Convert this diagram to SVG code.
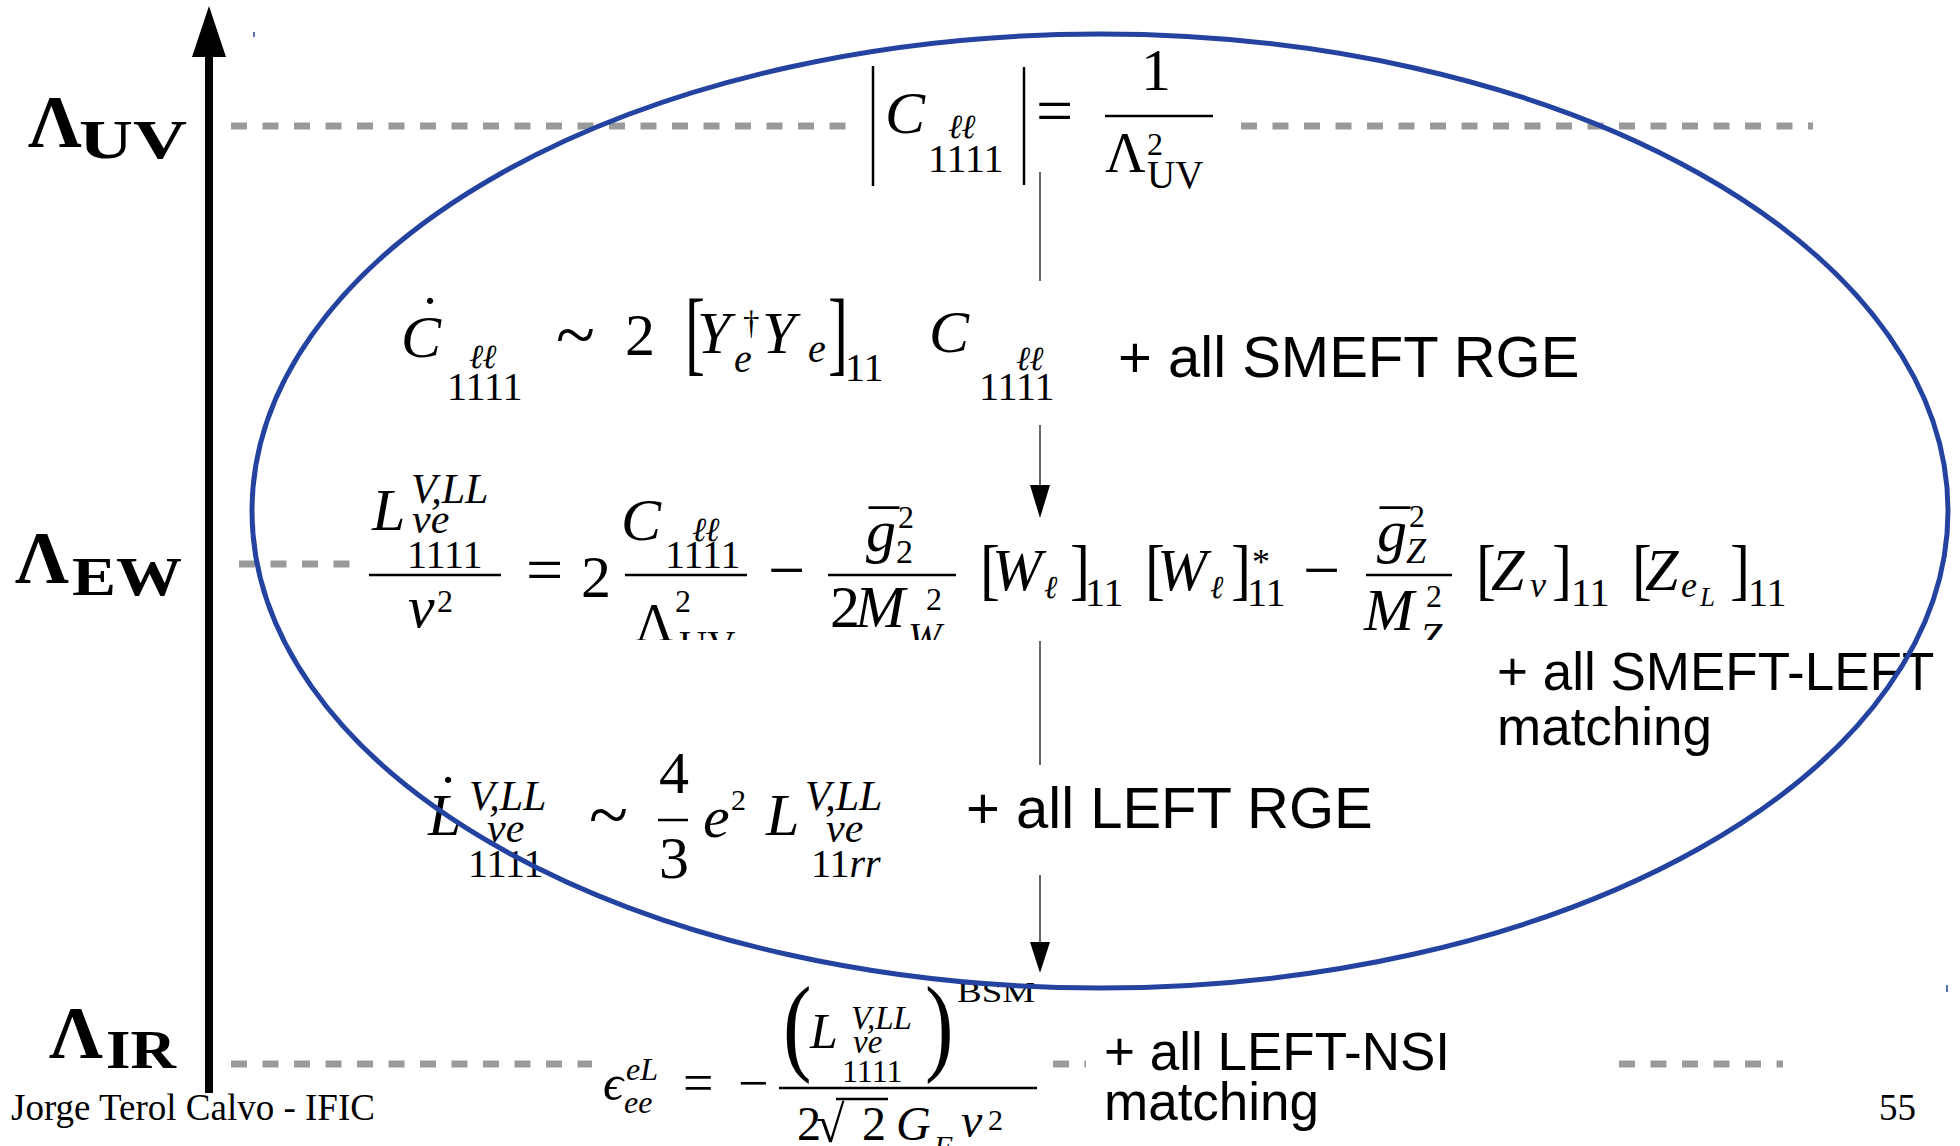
<svg xmlns="http://www.w3.org/2000/svg" width="1960" height="1146" viewBox="0 0 1960 1146">
<style>
.mi{font-family:"Liberation Serif","DejaVu Serif",serif;font-style:italic;fill:#000}
.mu{font-family:"Liberation Serif","DejaVu Serif",serif;fill:#000}
.ell{font-family:"DejaVu Serif","Liberation Serif",serif;font-style:italic;fill:#000}
.bl{font-family:"Liberation Serif","DejaVu Serif",serif;font-weight:bold;fill:#000}
.sans{font-family:"Liberation Sans",Arial,sans-serif;fill:#000}
.fb{stroke:#000;stroke-width:2.5}
.vb{stroke:#000;stroke-width:2.5}
.lvl{stroke:#9a9a9a;stroke-width:7;stroke-dasharray:16 15.5;fill:none}
.conn{stroke:#333;stroke-width:1.5}
.head{fill:#000}
</style>
<defs>
<clipPath id="clipEW"><rect x="350" y="380" width="1450" height="260"/></clipPath>
</defs>
<rect width="1960" height="1146" fill="#fff"/>

<g id="levels">
<line class="lvl" x1="231" y1="126" x2="849" y2="126"/>
<line class="lvl" x1="1241" y1="126" x2="1813" y2="126"/>
<line class="lvl" x1="239" y1="564" x2="350" y2="564"/>
<line class="lvl" x1="231" y1="1064" x2="592" y2="1064"/>
<line class="lvl" x1="1053" y1="1064" x2="1086" y2="1064"/>
<line class="lvl" x1="1619" y1="1064" x2="1783" y2="1064"/>
</g>

<g id="scale-labels">
<text class="bl" font-size="75" x="28" y="147">Λ</text>
<text class="bl" font-size="54" x="79" y="158" textLength="108" lengthAdjust="spacingAndGlyphs">UV</text>
<text class="bl" font-size="75" x="15" y="583">Λ</text>
<text class="bl" font-size="54" x="72" y="595" textLength="110" lengthAdjust="spacingAndGlyphs">EW</text>
<text class="bl" font-size="75" x="49" y="1058">Λ</text>
<text class="bl" font-size="54" x="106" y="1068" textLength="70" lengthAdjust="spacingAndGlyphs">IR</text>
</g>

<g id="eq-uv">
<line class="vb" x1="873" y1="66" x2="873" y2="186"/>
<text class="mi" font-size="60" x="885" y="133">C</text>
<text class="ell" font-size="34" x="948" y="138" letter-spacing="-1">ℓℓ</text>
<text class="mu" font-size="40" x="928" y="172">1111</text>
<line class="vb" x1="1024" y1="67" x2="1024" y2="185"/>
<text class="mu" font-size="66" x="1036" y="133">=</text>
<line class="fb" x1="1105" y1="116" x2="1213" y2="116"/>
<text class="mu" font-size="60" x="1141" y="90">1</text>
<text class="mu" font-size="56" x="1105" y="172">Λ</text>
<text class="mu" font-size="32" x="1147" y="155">2</text>
<text class="mu" font-size="39" x="1147" y="188">UV</text>
</g>

<g id="eq-smeft-rge">
<text class="mi" font-size="60" x="401" y="357">C</text>
<text class="mu" font-size="60" x="420" y="337">˙</text>
<text class="ell" font-size="34" x="469" y="368" letter-spacing="-1">ℓℓ</text>
<text class="mu" font-size="40" x="447" y="400">1111</text>
<text class="mu" font-size="72" x="556" y="359">~</text>
<text class="mu" font-size="60" x="625" y="355">2</text>
<text class="mu" font-size="60" transform="translate(685,363.5) scale(1,1.55)">[</text>
<text class="mi" font-size="60" x="697" y="353">Y</text>
<text class="mu" font-size="33" x="743" y="334">†</text>
<text class="mi" font-size="40" x="734" y="372">e</text>
<text class="mi" font-size="60" x="762" y="353">Y</text>
<text class="mi" font-size="40" x="808" y="362">e</text>
<text class="mu" font-size="60" transform="translate(828,363.5) scale(1,1.55)">]</text>
<text class="mu" font-size="40" x="845" y="381">11</text>
<text class="mi" font-size="60" x="929" y="352">C</text>
<text class="ell" font-size="34" x="1016" y="370" letter-spacing="-1">ℓℓ</text>
<text class="mu" font-size="40" x="979" y="400">1111</text>
<text class="sans" font-size="58" x="1118" y="377">+ all SMEFT RGE</text>
</g>

<g id="eq-smeft-left">
<g clip-path="url(#clipEW)">
<text class="mi" font-size="60" x="372" y="530">L</text>
<text class="mi" font-size="42" x="411" y="503">V,LL</text>
<text class="mi" font-size="42" x="412" y="533">νe</text>
<text class="mu" font-size="40" x="407" y="568">1111</text>
<line class="fb" x1="369" y1="575" x2="501" y2="575"/>
<text class="mi" font-size="60" x="408" y="627">v</text>
<text class="mu" font-size="32" x="437" y="612">2</text>
<text class="mu" font-size="66" x="526" y="592">=</text>
<text class="mu" font-size="60" x="581" y="597">2</text>
<text class="mi" font-size="60" x="621" y="540">C</text>
<text class="ell" font-size="34" x="692" y="541" letter-spacing="-1">ℓℓ</text>
<text class="mu" font-size="40" x="665" y="568">1111</text>
<line class="fb" x1="625" y1="575" x2="747" y2="575"/>
<text class="mu" font-size="54" x="635" y="641">Λ</text>
<text class="mu" font-size="32" x="675" y="612">2</text>
<text class="mu" font-size="39" x="679" y="658">UV</text>
<text class="mu" font-size="66" x="768" y="592">−</text>
<text class="mi" font-size="60" x="866" y="551">g</text>
<text class="mu" font-size="60" x="869" y="551">¯</text>
<text class="mu" font-size="32" x="898" y="528">2</text>
<text class="mu" font-size="34" x="896" y="563">2</text>
<line class="fb" x1="828" y1="575" x2="956" y2="575"/>
<text class="mu" font-size="60" x="830" y="627">2</text>
<text class="mi" font-size="60" x="855" y="627">M</text>
<text class="mu" font-size="32" x="926" y="610">2</text>
<text class="mi" font-size="40" x="908" y="650">W</text>
<text class="mu" font-size="60" transform="translate(980,592) scale(1,1.14)">[</text>
<text class="mi" font-size="60" x="992" y="590">W</text>
<text class="ell" font-size="32" x="1044" y="598">ℓ</text>
<text class="mu" font-size="60" transform="translate(1070,592) scale(1,1.14)">]</text>
<text class="mu" font-size="40" x="1085" y="606">11</text>
<text class="mu" font-size="60" transform="translate(1145,592) scale(1,1.14)">[</text>
<text class="mi" font-size="60" x="1157" y="590">W</text>
<text class="ell" font-size="32" x="1210" y="598">ℓ</text>
<text class="mu" font-size="60" transform="translate(1231,592) scale(1,1.14)">]</text>
<text class="mu" font-size="36" x="1252" y="574">*</text>
<text class="mu" font-size="40" x="1247" y="606">11</text>
<text class="mu" font-size="66" x="1303" y="592">−</text>
<text class="mi" font-size="60" x="1377" y="551">g</text>
<text class="mu" font-size="60" x="1380" y="551">¯</text>
<text class="mu" font-size="32" x="1409" y="527">2</text>
<text class="mi" font-size="36" x="1406" y="563">Z</text>
<line class="fb" x1="1366" y1="575" x2="1452" y2="575"/>
<text class="mi" font-size="60" x="1364" y="630">M</text>
<text class="mu" font-size="32" x="1426" y="607">2</text>
<text class="mi" font-size="40" x="1420" y="650">Z</text>
<text class="mu" font-size="60" transform="translate(1476,592) scale(1,1.14)">[</text>
<text class="mi" font-size="60" x="1491" y="590">Z</text>
<text class="mi" font-size="36" x="1530" y="597">ν</text>
<text class="mu" font-size="60" transform="translate(1552,592) scale(1,1.14)">]</text>
<text class="mu" font-size="40" x="1571" y="606">11</text>
<text class="mu" font-size="60" transform="translate(1632,592) scale(1,1.14)">[</text>
<text class="mi" font-size="60" x="1645" y="590">Z</text>
<text class="mi" font-size="36" x="1681" y="597">e</text>
<text class="mi" font-size="27" x="1700" y="606">L</text>
<text class="mu" font-size="60" transform="translate(1730,592) scale(1,1.14)">]</text>
<text class="mu" font-size="40" x="1748" y="606">11</text>
</g>
<text class="sans" font-size="53" x="1497" y="690">+ all SMEFT-LEFT</text>
<text class="sans" font-size="53" x="1497" y="745">matching</text>
</g>

<g id="eq-left-rge">
<text class="mi" font-size="60" x="428" y="835">L</text>
<text class="mu" font-size="60" x="438" y="816">˙</text>
<text class="mi" font-size="42" x="469" y="810">V,LL</text>
<text class="mi" font-size="42" x="487" y="842">νe</text>
<text class="mu" font-size="40" x="468" y="877">1111</text>
<text class="mu" font-size="72" x="589" y="839">~</text>
<text class="mu" font-size="60" x="659" y="793">4</text>
<line class="fb" x1="658" y1="820" x2="688" y2="820"/>
<text class="mu" font-size="60" x="659" y="878">3</text>
<text class="mi" font-size="60" x="703" y="837">e</text>
<text class="mu" font-size="30" x="731" y="810">2</text>
<text class="mi" font-size="60" x="766" y="835">L</text>
<text class="mi" font-size="42" x="805" y="810">V,LL</text>
<text class="mi" font-size="42" x="826" y="842">νe</text>
<text class="mu" font-size="40" x="811" y="877">11<tspan class="mi">rr</tspan></text>
<text class="sans" font-size="58" x="966" y="828">+ all LEFT RGE</text>
</g>

<g id="eq-left-nsi">
<text class="mi" font-size="50" x="603" y="1100">ϵ</text>
<text class="mi" font-size="32" x="626" y="1080">eL</text>
<text class="mi" font-size="32" x="624" y="1113">ee</text>
<text class="mu" font-size="54" x="683" y="1101">=</text>
<text class="mu" font-size="54" x="738" y="1101">−</text>
<line class="fb" x1="779" y1="1088" x2="1037" y2="1088" stroke-width="2"/>
<text class="mu" font-size="107" transform="translate(783,1061) scale(0.8,1)">(</text>
<text class="mi" font-size="50" x="810" y="1048">L</text>
<text class="mi" font-size="33" x="851" y="1029">V,LL</text>
<text class="mi" font-size="33" x="853" y="1053">νe</text>
<text class="mu" font-size="32" x="842" y="1082">1111</text>
<text class="mu" font-size="107" transform="translate(925,1061) scale(0.8,1)">)</text>
<text class="mu" font-size="30" x="957" y="1002" textLength="78" lengthAdjust="spacingAndGlyphs">BSM</text>
<text class="mu" font-size="48" x="797" y="1140">2</text>
<text class="mu" font-size="52" x="816" y="1142">√</text>
<line class="fb" x1="836" y1="1099" x2="888" y2="1099" stroke-width="2"/>
<text class="mu" font-size="48" x="862" y="1140">2</text>
<text class="mi" font-size="48" x="896" y="1140">G</text>
<text class="mi" font-size="30" x="934" y="1156">F</text>
<text class="mi" font-size="48" x="961" y="1137">v</text>
<text class="mu" font-size="30" x="988" y="1130">2</text>
<text class="sans" font-size="53" x="1104" y="1070">+ all LEFT-NSI</text>
<text class="sans" font-size="53" x="1104" y="1120">matching</text>
</g>

<g id="region">
<ellipse cx="1100" cy="511" rx="848" ry="477" fill="none" stroke="#2443a0" stroke-width="5"/>
<line x1="254" y1="32" x2="254" y2="37" stroke="#2443a0" stroke-width="1.5"/>
<line x1="1947" y1="985" x2="1947" y2="992" stroke="#2443a0" stroke-width="1.5"/>
</g>

<g id="connectors">
<line x1="209" y1="50" x2="209" y2="1093" stroke="#000" stroke-width="8"/>
<polygon class="head" points="209,6 192,57 226,57"/>
<line class="conn" x1="1040" y1="172" x2="1040" y2="281"/>
<line class="conn" x1="1040" y1="425" x2="1040" y2="488"/>
<polygon class="head" points="1030,485 1050,485 1040,518"/>
<line class="conn" x1="1040" y1="641" x2="1040" y2="765"/>
<line class="conn" x1="1040" y1="875" x2="1040" y2="945"/>
<polygon class="head" points="1030,942 1050,942 1040,973"/>
</g>

<g id="footer">
<text class="mu" font-size="37" x="11" y="1120">Jorge Terol Calvo - IFIC</text>
<text class="mu" font-size="37" x="1879" y="1120">55</text>
</g>
</svg>
